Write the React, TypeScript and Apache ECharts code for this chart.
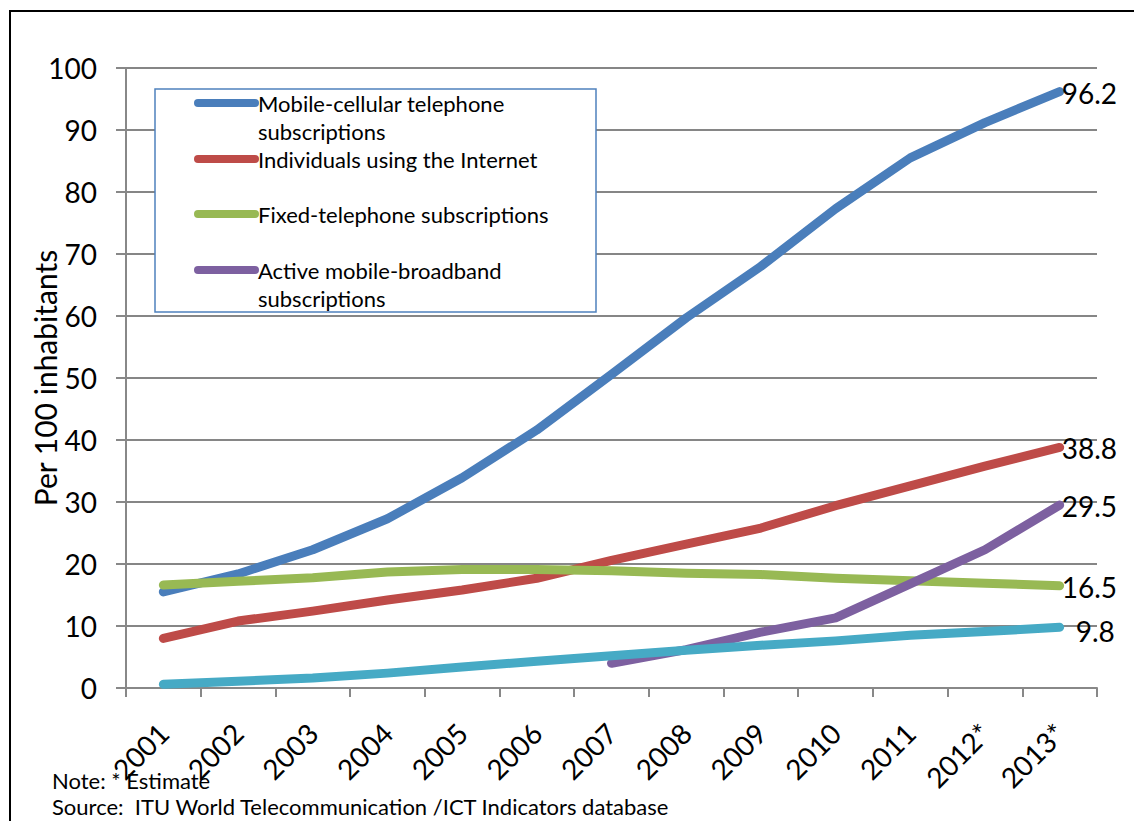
import React, { useEffect, useRef } from "react";
import * as echarts from "echarts";

const years = ["2001", "2002", "2003", "2004", "2005", "2006", "2007", "2008", "2009", "2010", "2011", "2012*", "2013*"];
const mobileCellular = [15.5, 18.4, 22.3, 27.3, 33.9, 41.6, 50.6, 59.7, 68.0, 77.3, 85.5, 91.2, 96.2];
const internetUsers = [8.0, 10.8, 12.4, 14.2, 15.8, 17.7, 20.6, 23.2, 25.8, 29.4, 32.6, 35.8, 38.8];
const fixedTelephone = [16.6, 17.2, 17.8, 18.7, 19.1, 19.1, 18.9, 18.5, 18.3, 17.7, 17.3, 16.9, 16.5];
const mobileBroadband = [null, null, null, null, null, null, 4.0, 6.2, 9.0, 11.3, 16.8, 22.3, 29.5];
const fixedBroadband = [0.6, 1.1, 1.6, 2.4, 3.4, 4.3, 5.2, 6.1, 6.9, 7.6, 8.5, 9.1, 9.8];
const yTicks = [0, 10, 20, 30, 40, 50, 60, 70, 80, 90, 100];

const seriesNames = [
  "Mobile-cellular telephone\nsubscriptions",
  "Individuals using the Internet",
  "Fixed-telephone subscriptions",
  "Active mobile-broadband\nsubscriptions",
  "Fixed-broadband subscriptions",
];
const colors = ["#4A7EBB", "#BE4B48", "#98B954", "#7D60A0", "#46AAC5"];
const seriesData = [mobileCellular, internetUsers, fixedTelephone, mobileBroadband, fixedBroadband];
const legendCount = 4;

const FONT = "Lato, 'Open Sans', sans-serif";

export default function App() {
  const ref = useRef<HTMLDivElement>(null);
  useEffect(() => {
    if (!ref.current) return;
    const chart = echarts.init(ref.current, null, { renderer: "svg" });

    const series = seriesData.map((d, i) => ({
      type: "line",
      name: seriesNames[i].replace("\n", " "),
      data: d,
      symbol: "none",
      z: 2 + i,
      lineStyle: { color: colors[i], width: 9, cap: "round", join: "round" },
      itemStyle: { color: colors[i] },
      endLabel: {
        show: true,
        formatter: (p: any) => String(p.value),
        color: "#000",
        fontSize: 28,
        fontFamily: FONT,
        distance: 2,
        offset: i === 4 ? [14, 4] : [0, 1],
      },
    }));

    const legendItems: any[] = [
      {
        type: "rect",
        z: 10,
        shape: { x: 155, y: 89, width: 441, height: 223 },
        style: { fill: "#fff", stroke: "#4F81BD", lineWidth: 1.5 },
      },
    ];
    const rowY = [103, 159, 214, 270];
    for (let i = 0; i < legendCount; i++) {
      legendItems.push({
        type: "line",
        z: 11,
        shape: { x1: 198, y1: rowY[i], x2: 255, y2: rowY[i] },
        style: { stroke: colors[i], lineWidth: 8, lineCap: "round" },
      });
      seriesNames[i].split("\n").forEach((line, k) => {
        legendItems.push({
          type: "text",
          z: 11,
          style: {
            text: line,
            x: 258,
            y: rowY[i] + k * 28,
            fill: "#000",
            font: `22px ${FONT}`,
            verticalAlign: "middle",
          },
        });
      });
    }

    chart.setOption({
      animation: false,
      backgroundColor: "#fff",
      grid: { left: 126, top: 68, right: 37, bottom: 133, containLabel: false },
      xAxis: {
        type: "category",
        data: years,
        boundaryGap: true,
        axisLine: { lineStyle: { color: "#888", width: 2 } },
        axisTick: { show: true, length: 9, lineStyle: { color: "#888", width: 2 } },
        axisLabel: {
          rotate: 45,
          interval: 0,
          margin: 40,
          color: "#000",
          fontSize: 28,
          fontFamily: FONT,
        },
        splitLine: { show: false },
      },
      yAxis: {
        type: "value",
        min: 0,
        max: 100,
        interval: 10,
        name: "Per 100 inhabitants",
        nameLocation: "middle",
        nameRotate: 90,
        nameGap: 66,
        nameMoveOverlap: false,
        nameTextStyle: { color: "#000", fontSize: 30, fontFamily: FONT },
        axisLine: { show: true, lineStyle: { color: "#888", width: 2 } },
        axisTick: { show: true, length: 10, lineStyle: { color: "#888", width: 2 } },
        axisLabel: {
          margin: 29,
          color: "#000",
          fontSize: 28,
          fontFamily: FONT,
          formatter: (v: number) => (yTicks.includes(v) ? String(v) : ""),
        },
        splitLine: { show: true, lineStyle: { color: "#868686", width: 2 } },
      },
      series,
      graphic: [
        {
          type: "rect",
          silent: true,
          z: 0,
          shape: { x: 10, y: 11, width: 1300, height: 1000 },
          style: { fill: "none", stroke: "#000", lineWidth: 2 },
        },
        { type: "group", z: 10, children: legendItems },
        {
          type: "text",
          z: 11,
          style: { text: "Note: * Estimate", x: 52, y: 780, fill: "#000", font: `22px ${FONT}`, verticalAlign: "middle" },
        },
        {
          type: "text",
          z: 11,
          style: {
            text: "Source:  ITU World Telecommunication /ICT Indicators database",
            x: 52,
            y: 806,
            fill: "#000",
            font: `22px ${FONT}`,
            verticalAlign: "middle",
          },
        },
      ],
    });
    return () => chart.dispose();
  }, []);
  return (
    <div
      ref={ref}
      style={{ position: "absolute", left: 0, top: 0, width: 1134, height: 821, background: "#fff" }}
    />
  );
}
